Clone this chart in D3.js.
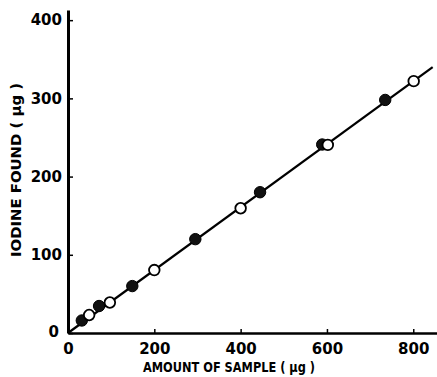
<!DOCTYPE html>
<html>
<head>
<meta charset="utf-8">
<script src="https://cdn.jsdelivr.net/npm/d3@7"></script>
<style>
  html, body { margin: 0; padding: 0; background: #fff; }
  svg { display: block; }
  text { font-family: "DejaVu Sans", sans-serif; font-weight: bold; fill: #000; }
</style>
</head>
<body>
<svg id="chart" width="437" height="377"></svg>
<script>
// ---- data ----
const filledX = [32, 72, 149, 295, 445, 589, 735];
const filledY = [16, 34.5, 60, 120, 180, 241, 298];
const openX = [49, 97, 200, 400, 602, 801];
const openY = [23, 39, 80.5, 159.5, 240.5, 322];
const lineX = [0, 845];
const lineY = [0, 340];
const xTicks = [0, 200, 400, 600, 800];
const yTicks = [0, 100, 200, 300, 400];
const xTitle = "AMOUNT OF SAMPLE ( \u03BCg )";
const yTitle = "IODINE FOUND ( \u03BCg )";

const svg = d3.select("#chart");
const x = d3.scaleLinear().domain([0, 855]).range([68, 437]);
const y = d3.scaleLinear().domain([0, 413]).range([333, 10]);

// axes
const xAxis = d3.axisBottom(x).tickValues(xTicks).tickSizeInner(-4).tickSizeOuter(0).tickPadding(10);
const yAxis = d3.axisLeft(y).tickValues(yTicks).tickSizeInner(-5).tickSizeOuter(0).tickPadding(6);

const gx = svg.append("g").attr("transform", `translate(0,${y(0)})`).call(xAxis);
gx.select(".domain").attr("stroke", "#000").attr("stroke-width", 2.5);
gx.selectAll(".tick line").attr("stroke", "#000").attr("stroke-width", 1.5);
gx.selectAll(".tick text").style("font-size", "15px").attr("font-family", null);

const gy = svg.append("g").attr("transform", `translate(${x(0)},0)`).call(yAxis);
gy.select(".domain").attr("stroke", "#000").attr("stroke-width", 3);
gy.selectAll(".tick line").attr("stroke", "#000").attr("stroke-width", 1.5);
gy.selectAll(".tick text").style("font-size", "15px").attr("font-family", null);
gy.selectAll(".tick").filter(d => d === 0).select("text").attr("x", -9).attr("dy", "0.2em");

// fitted line
const line = d3.line().x(d => x(d[0])).y(d => y(d[1]));
svg.append("path")
  .datum(lineX.map((v, i) => [v, lineY[i]]))
  .attr("d", line)
  .attr("fill", "none")
  .attr("stroke", "#000")
  .attr("stroke-width", 2.2);

// filled markers
svg.append("g").selectAll("circle")
  .data(filledX.map((v, i) => [v, filledY[i]]))
  .join("circle")
  .attr("cx", d => x(d[0])).attr("cy", d => y(d[1]))
  .attr("r", 5.7).attr("fill", "#111").attr("stroke", "#000").attr("stroke-width", 1);

// open markers
svg.append("g").selectAll("circle")
  .data(openX.map((v, i) => [v, openY[i]]))
  .join("circle")
  .attr("cx", d => x(d[0])).attr("cy", d => y(d[1]))
  .attr("r", 5.3).attr("fill", "#fff").attr("stroke", "#000").attr("stroke-width", 1.8);

// axis titles
svg.append("text")
  .attr("x", 229).attr("y", 372)
  .attr("text-anchor", "middle")
  .attr("textLength", 172)
  .attr("lengthAdjust", "spacingAndGlyphs")
  .style("font-size", "14px")
  .text(xTitle);

svg.append("text")
  .attr("transform", "translate(21,170) rotate(-90)")
  .attr("text-anchor", "middle")
  .attr("textLength", 174)
  .attr("lengthAdjust", "spacingAndGlyphs")
  .style("font-size", "14px")
  .text(yTitle);
</script>
</body>
</html>
